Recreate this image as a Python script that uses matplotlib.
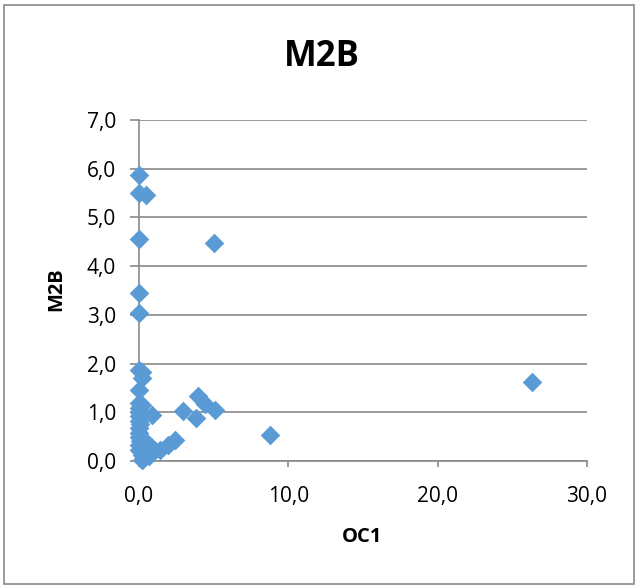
import matplotlib
matplotlib.use("Agg")
import matplotlib.pyplot as plt
from matplotlib.patches import Rectangle
from matplotlib.ticker import FuncFormatter, MultipleLocator

plt.rcParams['font.family'] = ['Open Sans', 'DejaVu Sans']

oc1 = [0.0, 0.0, 0.5, 0.0, 5.0, 0.0, 0.0, 0.0, 0.2, 0.2, 0.0, 0.0, 0.2,
       0.0, 0.0, 0.0, 0.0, 0.1, 0.0, 0.0, 0.0, 0.1, 0.0, 0.0, 0.2,
       0.9, 0.4, 0.5, 0.6, 0.8, 1.0, 1.4, 1.95, 2.4, 0.3, 0.5, 0.2, 0.7, 0.3,
       2.95, 3.8, 3.95, 4.4, 5.1, 8.8, 26.3]
m2b = [5.87, 5.50, 5.47, 4.55, 4.47, 3.44, 3.03, 1.86, 1.82, 1.70, 1.45, 1.20, 1.15,
       1.08, 1.00, 0.92, 0.82, 0.75, 0.68, 0.58, 0.50, 0.42, 0.32, 0.22, 0.12,
       0.95, 0.40, 0.30, 0.35, 0.28, 0.22, 0.23, 0.33, 0.43, 0.05, 0.15, 0.02, 0.10, 0.25,
       1.03, 0.88, 1.33, 1.17, 1.05, 0.53, 1.63]

fig = plt.figure(figsize=(6.35, 5.85), dpi=100)
ax = fig.add_axes([139/635, 1-461/585, (587-139)/635, (461-120)/585])

ax.scatter(oc1, m2b, marker='D', s=10**2, color='#5B9BD5', linewidths=0, zorder=3, clip_on=False)

ax.set_xlim(0, 30)
ax.set_ylim(0, 7)
ax.xaxis.set_major_locator(MultipleLocator(10))
ax.yaxis.set_major_locator(MultipleLocator(1))
fmt = FuncFormatter(lambda v, p: f"{v:.1f}".replace('.', ','))
ax.xaxis.set_major_formatter(fmt)
ax.yaxis.set_major_formatter(fmt)
ax.grid(axis='y', color='#898989', linewidth=1.2)
ax.set_axisbelow(True)
for s in ['top', 'right']:
    ax.spines[s].set_visible(False)
for s in ['left', 'bottom']:
    ax.spines[s].set_color('#898989')
    ax.spines[s].set_linewidth(1.2)
ax.tick_params(colors='#898989', width=1.2, labelcolor='black', labelsize=15)
ax.tick_params(axis='x', length=4, pad=14)
ax.tick_params(axis='y', length=6.5, pad=10)

fig.text(362/635, 1-537/585, 'OC1', ha='center', va='center', fontsize=14.5, fontweight='bold')
fig.text(56/635, 1-289/585, 'M2B', ha='center', va='center', fontsize=14.5, fontweight='bold', rotation=90)
fig.text(322/635, 1-57/585, 'M2B', ha='center', va='center', fontsize=25, fontweight='bold')

fig.patches.append(Rectangle((4/635, 1-584/585), 630/635, 579/585, transform=fig.transFigure,
                             fill=False, edgecolor='#898989', linewidth=1.2))

fig.savefig('out.png', dpi=100)
